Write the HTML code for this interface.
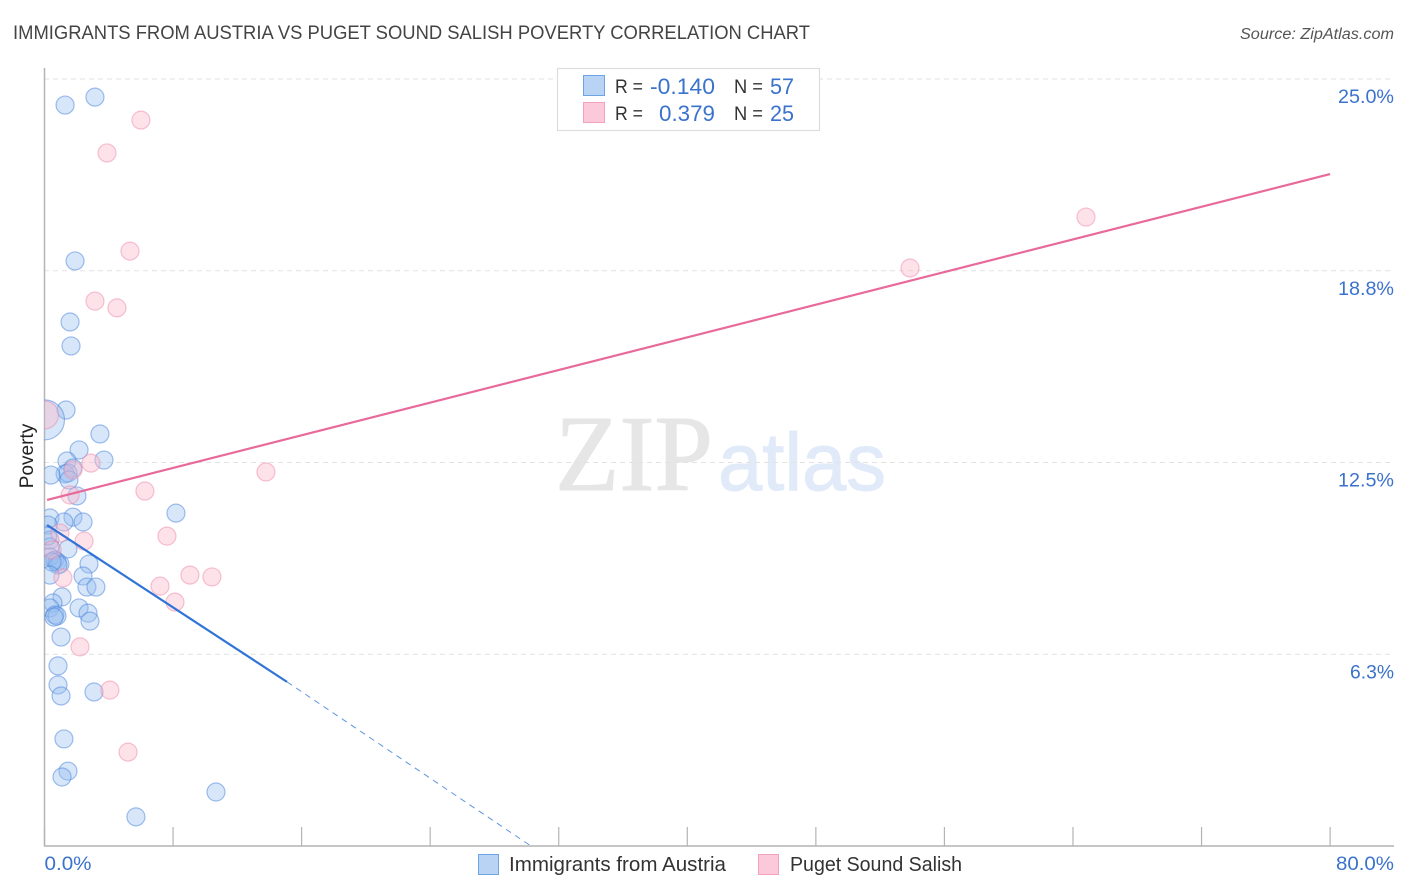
<!DOCTYPE html>
<html lang="en">
<head>
<meta charset="utf-8">
<title>Immigrants from Austria vs Puget Sound Salish Poverty Correlation Chart</title>
<style>
html,body{margin:0;padding:0;background:#fff;}
body{width:1406px;height:892px;overflow:hidden;font-family:"Liberation Sans",sans-serif;}
svg{display:block;}
text{font-family:"Liberation Sans",sans-serif;}
</style>
</head>
<body>
<svg id="chart" xmlns="http://www.w3.org/2000/svg" width="1406" height="892" viewBox="0 0 1406 892">
  <defs>
    <clipPath id="plot-clip"><rect x="44.5" y="60" width="1350" height="786"/></clipPath>
  </defs>
  <text x="13" y="39" font-size="19.5" fill="#444" textLength="797" lengthAdjust="spacingAndGlyphs">IMMIGRANTS FROM AUSTRIA VS PUGET SOUND SALISH POVERTY CORRELATION CHART</text>
  <text x="1394" y="39" font-size="15.5" fill="#555" font-style="italic" text-anchor="end" textLength="154" lengthAdjust="spacingAndGlyphs">Source: ZipAtlas.com</text>
  <g>
    <text x="555" y="490" font-size="108" fill="#e6e6e6" stroke="#e6e6e6" stroke-width="1" style="font-family:'Liberation Serif',serif" textLength="158" lengthAdjust="spacingAndGlyphs">ZIP</text>
    <text x="718" y="490" font-size="82" fill="#e0eaf8" stroke="#e0eaf8" stroke-width="1" textLength="168" lengthAdjust="spacingAndGlyphs">atlas</text>
  </g>
  <g id="grid"></g>
  <g id="axes"></g>
  <g id="blue-points" clip-path="url(#plot-clip)"></g>
  <g id="pink-points" clip-path="url(#plot-clip)"></g>
  <g id="trends"></g>
  <text transform="translate(33,456) rotate(-90)" font-size="19" fill="#222" text-anchor="middle">Poverty</text>
  <g>
    <rect x="557.5" y="68.5" width="262" height="62" fill="#fff" stroke="#dcdcdc" stroke-width="1.2"/>
    <rect x="583.5" y="75.5" width="21" height="20" fill="#b9d3f5" stroke="#6ea3e6" stroke-width="1"/>
    <rect x="583.5" y="102.5" width="21" height="20" fill="#fcc9da" stroke="#f3a2bd" stroke-width="1"/>
    <text x="615" y="93" font-size="19" fill="#333" textLength="28" lengthAdjust="spacingAndGlyphs">R =</text>
    <text x="715" y="94" font-size="22" fill="#3a72cc" text-anchor="end" textLength="65" lengthAdjust="spacingAndGlyphs">-0.140</text>
    <text x="734" y="93" font-size="19" fill="#333" textLength="29" lengthAdjust="spacingAndGlyphs">N =</text>
    <text x="794" y="94" font-size="22" fill="#3a72cc" text-anchor="end" textLength="24" lengthAdjust="spacingAndGlyphs">57</text>
    <text x="615" y="120" font-size="19" fill="#333" textLength="28" lengthAdjust="spacingAndGlyphs">R =</text>
    <text x="715" y="121" font-size="22" fill="#3a72cc" text-anchor="end" textLength="56" lengthAdjust="spacingAndGlyphs">0.379</text>
    <text x="734" y="120" font-size="19" fill="#333" textLength="29" lengthAdjust="spacingAndGlyphs">N =</text>
    <text x="794" y="121" font-size="22" fill="#3a72cc" text-anchor="end" textLength="24" lengthAdjust="spacingAndGlyphs">25</text>
  </g>
  <g>
    <rect x="478.5" y="854.5" width="20" height="20" fill="#b9d3f5" stroke="#6ea3e6" stroke-width="1"/>
    <text x="509" y="871" font-size="20" fill="#333" textLength="217" lengthAdjust="spacingAndGlyphs">Immigrants from Austria</text>
    <rect x="758.5" y="854.5" width="20" height="20" fill="#fcc9da" stroke="#f3a2bd" stroke-width="1"/>
    <text x="790" y="871" font-size="20" fill="#333" textLength="172" lengthAdjust="spacingAndGlyphs">Puget Sound Salish</text>
  </g>
</svg>
<script>
const yTickValues = [25, 18.75, 12.5, 6.25];
const yTickLabels = ["25.0%", "18.8%", "12.5%", "6.3%"];
const xTickValues = [0, 8, 16, 24, 32, 40, 48, 56, 64, 72, 80];
const xEndLabels = ["0.0%", "80.0%"];

const blueX = [1.28,3.14,1.90,1.59,1.65,1.34,3.45,2.15,1.40,3.70,1.77,1.28,1.46,0.40,1.52,2.02,8.18,0.34,1.77,1.21,2.40,0.22,0.34,0.34,1.46,0.34,0.65,0.78,0.96,0.84,0.47,0.34,2.77,2.40,2.64,3.20,1.09,0.53,0.34,2.15,2.71,2.83,0.65,0.78,0.59,1.03,0.84,0.84,1.03,3.08,1.21,1.46,1.09,5.69,10.67,0,0.20];
const blueY = [24.15,24.41,19.07,17.08,16.30,14.21,13.43,12.91,12.55,12.58,12.32,12.13,12.16,12.09,11.93,11.41,10.85,10.69,10.72,10.56,10.56,10.46,9.97,9.75,9.68,9.42,9.32,9.26,9.19,9.16,9.26,8.83,9.19,8.80,8.44,8.44,8.12,7.92,7.76,7.76,7.59,7.33,7.53,7.50,7.46,6.81,5.87,5.25,4.89,5.02,3.49,2.44,2.25,0.95,1.76,13.89,10.10];
const blueSize = [9,9,9,9,9,9,9,9,9,9,9,9,9,9,9,9,9,9,9,9,9,9,9,9,9,9,9,9,9,9,9,9,9,9,9,9,9,9,9,9,9,9,9,9,9,9,9,9,9,9,9,9,9,9,9,20,9];

const pinkX = [6.00,3.89,5.32,3.14,4.51,64.81,53.86,13.78,2.89,1.77,1.59,6.25,7.62,2.46,0.96,1.15,7.19,9.05,10.42,8.12,2.21,4.07,5.20,0,0.47];
const pinkY = [23.66,22.59,19.39,17.76,17.54,20.50,18.84,12.19,12.48,12.26,11.44,11.57,10.10,9.94,10.20,8.74,8.47,8.83,8.77,7.95,6.49,5.08,3.06,14.05,9.65];
const pinkSize = [9,9,9,9,9,9,9,9,9,9,9,9,9,9,9,9,9,9,9,9,9,9,9,14,9];

const blueTrendX = [0.16, 15.09];
const blueTrendY = [10.46, 5.35];
const blueDashX = [15.09, 30.27];
const blueDashY = [5.35, 0];
const pinkTrendX = [0.16, 80];
const pinkTrendY = [11.28, 21.90];

const NS = "http://www.w3.org/2000/svg";
function xScale(v) { return 44.5 + v * 16.07; }
function yScale(v) { return 846 - v * 30.68; }
function make(tag, attrs, parent) {
  const el = document.createElementNS(NS, tag);
  for (const k in attrs) el.setAttribute(k, attrs[k]);
  parent.appendChild(el);
  return el;
}

const gridG = document.getElementById("grid");
const axesG = document.getElementById("axes");

yTickValues.forEach(function (v, i) {
  const line = make("line", {x1: 44, x2: 1394, y1: yScale(v), y2: yScale(v), stroke: "#e2e2e2", "stroke-width": 1, "stroke-dasharray": "5 4"}, gridG);
  
  
  const label = make("text", {x: 1394, y: yScale(v) + 24, "font-size": 19.5, fill: "#3a72cc", "text-anchor": "end", textLength: yTickLabels[i].length === 4 ? 44 : 56, lengthAdjust: "spacingAndGlyphs"}, axesG);
  label.textContent = yTickLabels[i];
  
  
});

const yAxis = make("line", {x1: 44.5, x2: 44.5, y1: 68, y2: 846, stroke: "#b4b4b4", "stroke-width": 1.5}, axesG);


const xAxis = make("line", {x1: 44, x2: 1394, y1: 846, y2: 846, stroke: "#b4b4b4", "stroke-width": 1.5}, axesG);



xTickValues.forEach(function (v) {
  const tick = make("line", {x1: xScale(v), x2: xScale(v), y1: 827, y2: 846, stroke: "#b4b4b4", "stroke-width": 1.2}, axesG);
  
  
});

const xLabelLeft = make("text", {x: xScale(xTickValues[0]), y: 870, "font-size": 19.5, fill: "#3a72cc", textLength: 47, lengthAdjust: "spacingAndGlyphs"}, axesG);
xLabelLeft.textContent = xEndLabels[0];


const xLabelRight = make("text", {x: 1394, y: 870, "font-size": 19.5, fill: "#3a72cc", "text-anchor": "end", textLength: 58, lengthAdjust: "spacingAndGlyphs"}, axesG);
xLabelRight.textContent = xEndLabels[1];



const blueG = document.getElementById("blue-points");
blueX.forEach(function (v, i) {
  const c = make("circle", {cx: xScale(v), cy: yScale(blueY[i]), r: blueSize[i], fill: "rgba(150,190,240,0.38)", stroke: "rgba(70,130,220,0.5)", "stroke-width": 1.2}, blueG);
  
  
});

const pinkG = document.getElementById("pink-points");
pinkX.forEach(function (v, i) {
  const c = make("circle", {cx: xScale(v), cy: yScale(pinkY[i]), r: pinkSize[i], fill: "rgba(250,185,205,0.42)", stroke: "rgba(238,135,170,0.5)", "stroke-width": 1.2}, pinkG);
  
  
});

const trendG = document.getElementById("trends");
const blueTrend = make("line", {x1: xScale(blueTrendX[0]), y1: yScale(blueTrendY[0]), x2: xScale(blueTrendX[1]), y2: yScale(blueTrendY[1]), stroke: "#2f74d6", "stroke-width": 2.2}, trendG);


const blueDash = make("line", {x1: xScale(blueDashX[0]), y1: yScale(blueDashY[0]), x2: xScale(blueDashX[1]), y2: yScale(blueDashY[1]), stroke: "#5f95de", "stroke-width": 1, "stroke-dasharray": "6 5"}, trendG);


const pinkTrend = make("line", {x1: xScale(pinkTrendX[0]), y1: yScale(pinkTrendY[0]), x2: xScale(pinkTrendX[1]), y2: yScale(pinkTrendY[1]), stroke: "#e8699a", "stroke-width": 2.2}, trendG);


</script>
</body>
</html>
